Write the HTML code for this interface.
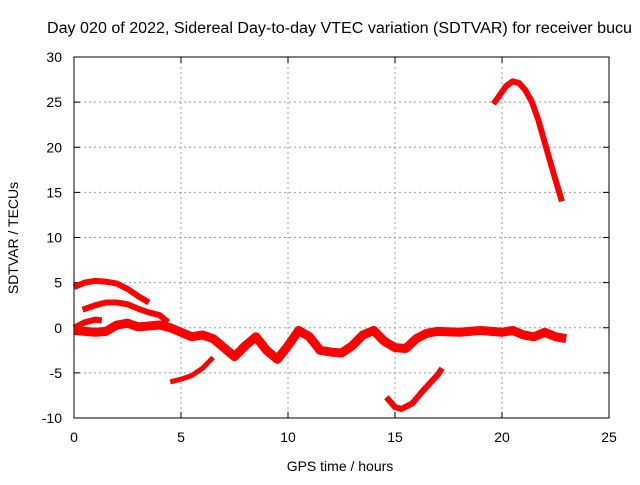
<!DOCTYPE html>
<html><head><meta charset="utf-8"><style>
body{margin:0;background:#fff;font-family:"Liberation Sans",sans-serif}
text{font-family:"Liberation Sans",sans-serif;font-size:14px;fill:#000}
</style></head><body>
<svg id="chart" width="640" height="480" xmlns="http://www.w3.org/2000/svg">
<text x="47" y="33" textLength="585" lengthAdjust="spacingAndGlyphs" style="font-size:15.5px">Day 020 of 2022, Sidereal Day-to-day VTEC variation (SDTVAR) for receiver bucu</text>
<g id="grid"></g>
<g id="ticks"></g>
<g id="series"></g>
<rect x="74" y="57" width="535" height="361" fill="none" stroke="#000" stroke-width="1"/>
<text x="340" y="471" text-anchor="middle">GPS time / hours</text>
<text transform="translate(18,238) rotate(-90)" text-anchor="middle">SDTVAR / TECUs</text>
</svg>
<script>
const xTicks=[0,5,10,15,20,25];
const yTicks=[-10,-5,0,5,10,15,20,25,30];
const arcA_t=[0,0.5,1,1.5,2,2.5,3,3.5];
const arcA_v=[4.5,5,5.2,5.1,4.9,4.3,3.5,2.8];
const arcB_t=[0.4,1,1.5,2,2.5,3,3.5,4,4.4];
const arcB_v=[2.0,2.5,2.8,2.8,2.6,2.1,1.7,1.4,0.6];
const arcC_t=[0,0.5,1,1.3];
const arcC_v=[0,0.6,0.9,0.8];
const mainT=[0,1,1.5,2,2.5,3,3.5,4,4.5,5,5.5,6,6.5,7,7.5,8,8.5,9,9.5,10,10.5,11,11.5,12,12.5,13,13.5,14,14.5,15,15.5,16,16.5,17,18,19,20,20.5,21,21.5,22,22.5,23];
const mainV=[-0.3,-0.5,-0.4,0.3,0.5,0.1,0.2,0.3,0,-0.5,-1,-0.8,-1.2,-2.2,-3.2,-2,-1,-2.5,-3.5,-2,-0.3,-1,-2.5,-2.7,-2.8,-2,-0.8,-0.3,-1.5,-2.2,-2.3,-1.2,-0.6,-0.4,-0.5,-0.3,-0.5,-0.3,-0.8,-1,-0.5,-1,-1.2];
const arcE_t=[4.5,5,5.5,6,6.5];
const arcE_v=[-6.0,-5.7,-5.3,-4.5,-3.3];
const arcF_t=[14.6,15,15.3,15.8,16.3,17,17.2];
const arcF_v=[-7.7,-8.8,-9.0,-8.4,-7,-5.2,-4.5];
const arcG_t=[19.6,19.9,20.2,20.5,20.8,21.1,21.4,21.7,22,22.3,22.6,22.8];
const arcG_v=[24.8,25.8,26.8,27.3,27.1,26.3,25,23,20.5,18,15.6,14];

const X=t=>74+t*535/25;
const Y=v=>418-(v+10)*361/40;
const NS="http://www.w3.org/2000/svg";
const grid=document.getElementById('grid'),ticks=document.getElementById('ticks'),ser=document.getElementById('series');
function mk(tag,attrs,parent){const e=document.createElementNS(NS,tag);for(const k in attrs)e.setAttribute(k,attrs[k]);parent.appendChild(e);return e;}
xTicks.forEach(t=>{
  const x=X(t);
  if(t>0&&t<25){const g=mk('line',{x1:x,x2:x,y1:57,y2:418,stroke:'#999','stroke-dasharray':'2,3'},grid);
  
  }
  mk('line',{x1:x,x2:x,y1:418,y2:412,stroke:'#000'},grid);
  mk('line',{x1:x,x2:x,y1:57,y2:63,stroke:'#000'},grid);
  const l=mk('text',{x:x,y:442,'text-anchor':'middle'},ticks);l.textContent=t;
  
  
});
yTicks.forEach(v=>{
  const y=Y(v);
  if(v>-10&&v<30){const g=mk('line',{x1:74,x2:609,y1:y,y2:y,stroke:'#999','stroke-dasharray':'2,3'},grid);
  
  }
  mk('line',{x1:74,x2:80,y1:y,y2:y,stroke:'#000'},grid);
  mk('line',{x1:609,x2:603,y1:y,y2:y,stroke:'#000'},grid);
  const l=mk('text',{x:62,y:y+5,'text-anchor':'end'},ticks);l.textContent=v;
  
  
});
function draw(ts,vs,w,name){
  const p=mk('polyline',{points:ts.map((t,i)=>X(t)+','+Y(vs[i])).join(' '),fill:'none',stroke:'#f00','stroke-width':w,'stroke-linejoin':'round','stroke-linecap':'butt'},ser);
  
  
}
draw(arcA_t,arcA_v,6,'arc-a');
draw(arcB_t,arcB_v,6,'arc-b');
draw(arcC_t,arcC_v,6,'arc-c');
draw(mainT,mainV,9,'main-arc');
draw(arcE_t,arcE_v,5,'arc-e');
draw(arcF_t,arcF_v,6,'arc-f');
draw(arcG_t,arcG_v,6,'arc-g');
</script>
</body></html>
